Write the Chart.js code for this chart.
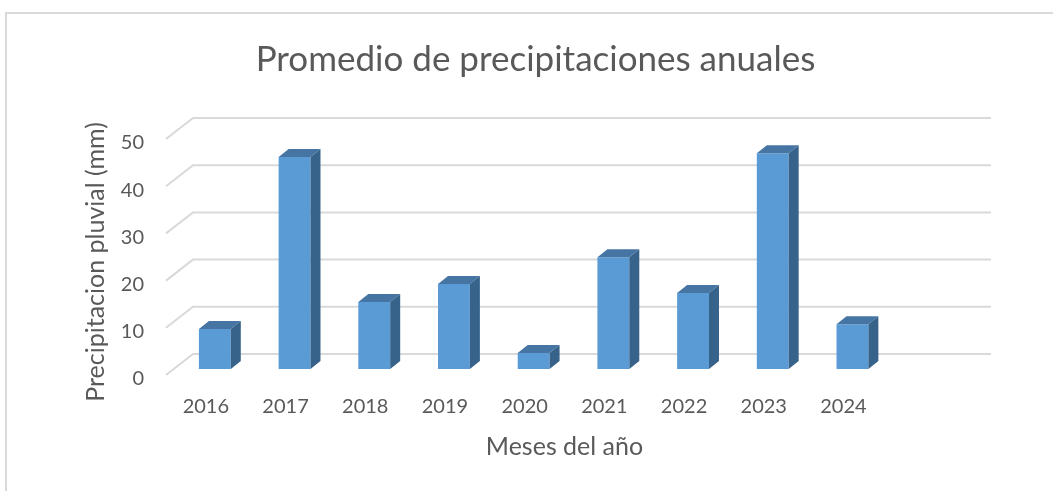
<!DOCTYPE html>
<html>
<head>
<meta charset="utf-8">
<script src="https://cdn.jsdelivr.net/npm/chart.js@4/dist/chart.umd.min.js"></script>
<style>
  html, body { margin: 0; padding: 0; background: #fff; overflow: hidden; }
  canvas { display: block; }
</style>
</head>
<body>
<canvas id="barChart" width="1053" height="491"></canvas>
<script>
const anios = ['2016', '2017', '2018', '2019', '2020', '2021', '2022', '2023', '2024', '']
const precipitacion = [8.5, 44.9, 14.2, 18, 3.4, 23.7, 16.1, 45.7, 9.5, null]

const textColor = '#595959'
const fontName = 'Lato, "Open Sans", sans-serif'

// fake 3D: back wall offset, and where the bars sit between floor front and back
const wall = { x: 27, y: -21 }
const barShift = { x: 9, y: -6 }
const barDepth = { x: 10, y: -8 }

const marco = {
  id: 'marco',
  beforeDraw (chart) {
    const ctx = chart.ctx
    ctx.save()
    ctx.strokeStyle = '#d9d9d9'
    ctx.lineWidth = 2
    // only top and left show, the rest falls off the picture
    ctx.strokeRect(6, 13, 1060, 500)
    ctx.restore()
    // title is centred on the whole frame, not on the plot
    chart.titleBlock.left = 0
    chart.titleBlock.right = 1071
    // y title sits a bit below the plot centre
    const y = chart.scales.y
    const drawTitle = y.drawTitle
    y.drawTitle = function () {
      ctx.save()
      ctx.translate(0, 5)
      drawTitle.call(this)
      ctx.restore()
    }
  }
}

const paredes = {
  id: 'paredes',
  beforeDatasetsDraw (chart) {
    const ctx = chart.ctx
    const y = chart.scales.y
    const left = chart.chartArea.left
    const right = chart.chartArea.right
    ctx.save()
    ctx.strokeStyle = '#d9d9d9'
    ctx.lineWidth = 2
    y.ticks.forEach(t => {
      const py = y.getPixelForValue(t.value)
      ctx.beginPath()
      ctx.moveTo(left, py)
      ctx.lineTo(left + wall.x, py + wall.y)
      ctx.lineTo(right + wall.x + 1, py + wall.y)
      ctx.stroke()
    })
    ctx.restore()
  },
  beforeDatasetDraw (chart) {
    chart.ctx.save()
    chart.ctx.translate(barShift.x, barShift.y)
  },
  afterDatasetDraw (chart, args) {
    const ctx = chart.ctx
    args.meta.data.forEach((bar, i) => {
      if (precipitacion[i] === null) return
      const w = bar.width / 2
      const r = bar.x + w
      const l = bar.x - w
      // top
      ctx.fillStyle = '#4675a4'
      ctx.beginPath()
      ctx.moveTo(l, bar.y)
      ctx.lineTo(l + barDepth.x, bar.y + barDepth.y)
      ctx.lineTo(r + barDepth.x, bar.y + barDepth.y)
      ctx.lineTo(r, bar.y)
      ctx.closePath()
      ctx.fill()
      // side
      ctx.fillStyle = '#37638b'
      ctx.beginPath()
      ctx.moveTo(r, bar.y)
      ctx.lineTo(r + barDepth.x, bar.y + barDepth.y)
      ctx.lineTo(r + barDepth.x, bar.base + barDepth.y)
      ctx.lineTo(r, bar.base)
      ctx.closePath()
      ctx.fill()
    })
    ctx.restore()
  }
}

new Chart(document.getElementById('barChart'), {
  type: 'bar',
  data: {
    labels: anios,
    datasets: [
      {
        label: 'Precipitacion',
        data: precipitacion,
        backgroundColor: '#5b9bd5',
        barPercentage: 1,
        categoryPercentage: 0.4
      }
    ]
  },
  plugins: [marco, paredes],
  options: {
    responsive: false,
    animation: false,
    layout: { padding: { left: 81, right: 90, top: 39, bottom: 29 } },
    plugins: {
      legend: { display: false },
      tooltip: { enabled: false },
      title: {
        display: true,
        text: 'Promedio de precipitaciones anuales',
        color: textColor,
        font: { family: fontName, size: 35, weight: 'normal' },
        padding: { top: 0, bottom: 58 }
      }
    },
    scales: {
      x: {
        afterFit (scale) { scale.height = 87 },
        grid: { display: false },
        border: { display: false },
        ticks: {
          color: textColor,
          padding: 12,
          maxRotation: 0,
          font: { family: fontName, size: 20 }
        },
        title: {
          display: true,
          text: 'Meses del año',
          color: textColor,
          font: { family: fontName, size: 25 },
          padding: { top: 0, bottom: 0 }
        }
      },
      y: {
        afterFit (scale) { scale.width = 85 },
        min: 0,
        max: 50,
        grid: { display: false },
        border: { display: false },
        ticks: {
          stepSize: 10,
          color: textColor,
          padding: 14,
          labelOffset: 4,
          font: { family: fontName, size: 20 }
        },
        title: {
          display: true,
          text: 'Precipitacion pluvial (mm)',
          color: textColor,
          font: { family: fontName, size: 25 },
          padding: { top: 0, bottom: 0 }
        }
      }
    }
  }
})
</script>
</body>
</html>
